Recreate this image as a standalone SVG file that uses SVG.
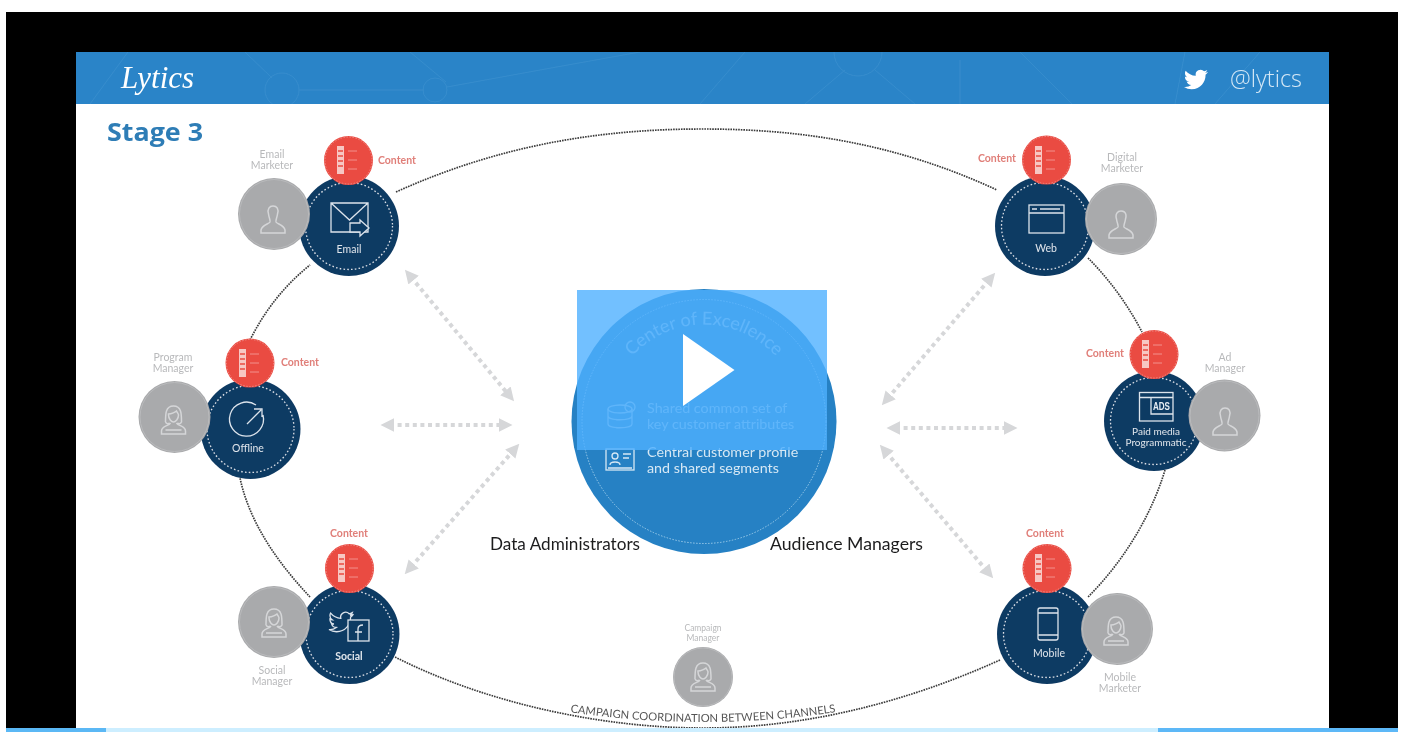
<svg xmlns="http://www.w3.org/2000/svg" width="1404" height="732" viewBox="0 0 1404 732">
<style>
text{font-family:"Lato","Liberation Sans",sans-serif}
.navy{fill:#113b63}
.red{fill:#ea4b42}
.grey{fill:#a9aaac}
.ring{fill:none;stroke:#fff;stroke-width:1.3;stroke-dasharray:1.6 2.2;opacity:.85}
.ringg{fill:none;stroke:#b9babc;stroke-width:1}
.ringr{fill:none;stroke:#f08a84;stroke-width:1;stroke-dasharray:1.5 1.5}
.role{font-size:10.5px;fill:#b8b9bb;text-anchor:middle}
.cont{font-size:10.5px;fill:#e07f79;font-weight:700}
.chan{font-size:10.5px;fill:#dfe6ec;text-anchor:middle}
.ico{fill:none;stroke:#dbe4ec;stroke-width:1.3}
.pic{fill:none;stroke:#d5d6d8;stroke-width:1.5}
.orbit{fill:none;stroke:#3a3a3a;stroke-width:1.7;stroke-dasharray:1.6 1}
.arr{fill:none;stroke:#d6d7d9;stroke-width:4;stroke-dasharray:4 3.6;marker-start:url(#head);marker-end:url(#head)}
.big{font-size:17px;fill:#1d1d1f}
.ctr{font-size:14.3px;fill:#d6e8f5}
.deco{fill:none;stroke:#4a9ad4;stroke-width:1;opacity:.4}
</style>
<defs>
<filter id="soft" filterUnits="userSpaceOnUse" x="0" y="0" width="1404" height="732"><feGaussianBlur stdDeviation="0.45"/></filter>
<clipPath id="hdr"><rect x="76" y="52" width="1253" height="52"/></clipPath>
<marker id="head" viewBox="0 0 10 10" refX="3" refY="5" markerWidth="3.4" markerHeight="3.8" orient="auto-start-reverse" markerUnits="strokeWidth"><path d="M0 0L10 5L0 10Z" fill="#d6d7d9"/></marker>
<g id="man"><path class="pic" d="M-4.500 -10C-6 -15 -3.500 -18 0 -18C4 -18 6 -15 4.500 -10C4 -6 2.500 -4 3 -2C4 0 11 1 12 6V9H-12V6C-11 1 -4 0 -3 -2C-2.500 -4 -4 -6 -4.500 -10Z"/></g>
<g id="woman"><path class="pic" d="M-8 -2C-8 -10 -8 -18 0 -18C8 -18 8 -10 8 -2C7 0 5 0 4 -1M-8 -2C-7 0 -5 0 -4 -1M-5 -10C-2 -10 2 -12 3 -13C4 -11 5 -10 5 -9C5 -5 2 -2 0 -2C-2 -2 -5 -5 -5 -9ZM-3 -1C-5 2 -12 2 -12 7V10H12V7C12 2 5 2 3 -1M-8 6H8"/></g>
<g id="list"><path d="M-8 -14H-1V14H-8Z" fill="#f7c7c3"/><path d="M-7 -9H-2M-7 -4H-2M-7 1H-2M-7 6H-2" stroke="#ea4b42" stroke-width="1.400"/><path d="M3 -9H12M3 0H12M3 9H12" stroke="#f2918b" stroke-width="1"/></g>
<path id="arcCoE" d="M607 421.500A97 97 0 0 1 801 421.500"/>
<path id="arcCamp" d="M550 709Q703 735 856 709"/>
</defs>
<rect width="1404" height="732" fill="#fff"/>
<rect x="6" y="12" width="1392" height="716" fill="#000"/>
<g id="slide" filter="url(#soft)">
<rect x="76" y="52" width="1253" height="676" fill="#fff"/>
<g id="header">
<rect x="76" y="52" width="1253" height="52" fill="#2a84c8"/>
<g class="deco" clip-path="url(#hdr)">
<circle cx="282" cy="90" r="17"/><circle cx="435" cy="90" r="12"/><circle cx="858" cy="52" r="24"/>
<path d="M90 104L128 52M245 52L272 78M299 90H424M447 87L540 70L640 52M446 82L410 52M700 104L745 52M805 104L845 70M875 70L915 104M1020 52L1072 104M1175 104L1185 52M1215 104L1260 52M960 60V104"/>
</g>
<text x="121" y="88" font-size="31" fill="#fff" font-style="italic" style="font-family:'Liberation Serif',serif">Lytics</text>
<path transform="translate(1184 67.500)" fill="#fff" d="M23.953 4.570a10 10 0 01-2.825.775 4.958 4.958 0 002.163-2.723c-.951.555-2.005.959-3.127 1.184a4.920 4.920 0 00-8.384 4.482C7.690 8.095 4.067 6.130 1.640 3.162a4.822 4.822 0 00-.666 2.475c0 1.710.870 3.213 2.188 4.096a4.904 4.904 0 01-2.228-.616v.060a4.923 4.923 0 003.946 4.827 4.996 4.996 0 01-2.212.085 4.936 4.936 0 004.604 3.417 9.867 9.867 0 01-6.102 2.105c-.390 0-.779-.023-1.170-.067a13.995 13.995 0 007.557 2.209c9.053 0 13.998-7.496 13.998-13.985 0-.210 0-.420-.015-.630A9.935 9.935 0 0024 4.590z"/>
<text x="1230" y="87" font-size="23" fill="#d5e8f6" textLength="72" lengthAdjust="spacingAndGlyphs" style="font-family:'Open Sans',sans-serif;font-weight:300">@lytics</text>
</g>
<text x="107" y="141" font-size="25" font-weight="700" fill="#2f7db6" textLength="96" lengthAdjust="spacingAndGlyphs" style="font-family:'Open Sans',sans-serif">Stage 3</text>

<g id="connectors">
<path class="orbit" d="M396 192C500 145 600 129 703 129S900 145 997 190"/>
<path class="orbit" d="M1088 258Q1120 290 1142 332"/>
<path class="orbit" d="M1165 470C1150 520 1120 565 1088 597"/>
<path class="orbit" d="M1000 660C900 705 800 728 703 728S490 705 395 657"/>
<path class="orbit" d="M310 597C280 565 250 525 240 478"/>
<path class="orbit" d="M250 340C265 310 285 285 310 265"/>
<path class="arr" d="M411 277L508 394"/>
<path class="arr" d="M390 425H503"/>
<path class="arr" d="M411 567L513 451"/>
<path class="arr" d="M989 280L888 398"/>
<path class="arr" d="M896 428H1008"/>
<path class="arr" d="M886 452L987 571"/>
</g>

<g id="center">
<circle cx="704" cy="421.500" r="132.500" fill="#2581c4"/>
<circle cx="704" cy="421.500" r="122" fill="none" stroke="#9ccbea" stroke-width="1" stroke-dasharray="1.500 1.500"/>
<g opacity=".7">
<text font-size="18" fill="#d6e8f5" text-anchor="middle"><textPath href="#arcCoE" startOffset="50%">Center of Excellence</textPath></text>
<g fill="none" stroke="#d6e8f5" stroke-width="1.300">
<ellipse cx="620" cy="409" rx="12" ry="4"/><path d="M608 409V424C608 429 632 429 632 424V409M608 416C608 421 632 421 632 416"/><circle cx="630" cy="407" r="5"/>
</g>
<text class="ctr" x="647" y="413">Shared common set of</text>
<text class="ctr" x="647" y="429">key customer attributes</text>
</g>
<g fill="none" stroke="#d6e8f5" stroke-width="1.300">
<rect x="606" y="449" width="28" height="21"/><circle cx="615" cy="456" r="3"/><path d="M610 465C610 461 620 461 620 465M623 454H631M623 458H629M608 468H632"/>
</g>
<text class="ctr" x="647" y="457">Central customer profile</text>
<text class="ctr" x="647" y="473">and shared segments</text>
</g>
<text class="big" x="490" y="550" id="label-data" textLength="150" lengthAdjust="spacingAndGlyphs">Data Administrators</text>
<text class="big" x="770" y="550" id="label-aud" textLength="153" lengthAdjust="spacingAndGlyphs">Audience Managers</text>

<g id="node-email">
<circle class="navy" cx="349" cy="226" r="50"/><circle class="ring" cx="349" cy="226" r="43.500"/>
<path class="ico" d="M331 203H368V232H331ZM331 203L349.500 220L368 203"/><path class="ico" style="fill:#113b63" d="M350 223H360V220L369 228L360 236V232H350Z"/>
<text class="chan" x="349" y="253">Email</text>
<circle class="grey" cx="274" cy="214" r="36"/><circle class="ringg" cx="274" cy="214" r="34.500"/><use href="#man" x="273" y="224"/>
<circle class="red" cx="348.500" cy="160.500" r="24.500"/><circle class="ringr" cx="348.500" cy="160.500" r="23.500"/><use href="#list" x="345" y="160"/>
<text class="role" x="272" y="158">Email</text><text class="role" x="272" y="169">Marketer</text>
<text class="cont" x="378" y="164">Content</text>
</g>

<g id="node-offline">
<circle class="navy" cx="250.500" cy="429" r="50"/><circle class="ring" cx="250.500" cy="429" r="43.500"/>
<path class="ico" d="M256 405A17 17 0 1 0 263 415M247 424L261 410M254 409H262V417"/>
<text class="chan" x="248" y="452">Offline</text>
<circle class="grey" cx="174.500" cy="417" r="36"/><circle class="ringg" cx="174.500" cy="417" r="34.500"/><use href="#woman" x="173.500" y="424"/>
<circle class="red" cx="250" cy="363" r="24.500"/><circle class="ringr" cx="250" cy="363" r="23.500"/><use href="#list" x="247" y="363"/>
<text class="role" x="173" y="361">Program</text><text class="role" x="173" y="372">Manager</text>
<text class="cont" x="281" y="366">Content</text>
</g>

<g id="node-social">
<circle class="navy" cx="349.500" cy="634" r="50"/><circle class="ring" cx="349.500" cy="634" r="43.500"/>
<path class="ico" transform="translate(329 610)" d="M23.953 4.570a10 10 0 01-2.825.775 4.958 4.958 0 002.163-2.723c-.951.555-2.005.959-3.127 1.184a4.920 4.920 0 00-8.384 4.482C7.690 8.095 4.067 6.130 1.640 3.162a4.822 4.822 0 00-.666 2.475c0 1.710.870 3.213 2.188 4.096a4.904 4.904 0 01-2.228-.616v.060a4.923 4.923 0 003.946 4.827 4.996 4.996 0 01-2.212.085 4.936 4.936 0 004.604 3.417 9.867 9.867 0 01-6.102 2.105c-.390 0-.779-.023-1.170-.067a13.995 13.995 0 007.557 2.209c9.053 0 13.998-7.496 13.998-13.985 0-.210 0-.420-.015-.630A9.935 9.935 0 0024 4.590z"/>
<rect class="ico" x="348" y="620" width="21" height="21" style="fill:#113b63"/><path class="ico" d="M358 641V629C358 626 360 625 363 625M355 632H362"/>
<text class="chan" x="349" y="660" style="font-weight:700">Social</text>
<circle class="grey" cx="274" cy="622" r="36"/><circle class="ringg" cx="274" cy="622" r="34.500"/><use href="#woman" x="274" y="627"/>
<circle class="red" cx="349.500" cy="568.500" r="24.500"/><circle class="ringr" cx="349.500" cy="568.500" r="23.500"/><use href="#list" x="346" y="568"/>
<text class="role" x="272" y="674">Social</text><text class="role" x="272" y="685">Manager</text>
<text class="cont" x="349" y="537" text-anchor="middle">Content</text>
</g>

<g id="node-web">
<circle class="navy" cx="1045" cy="226" r="50"/><circle class="ring" cx="1045" cy="226" r="43.500"/>
<rect class="ico" x="1029" y="205" width="35" height="28"/><path class="ico" d="M1029 213H1064M1032 209H1037M1040 209H1060"/>
<text class="chan" x="1046" y="252">Web</text>
<circle class="grey" cx="1121" cy="219" r="36"/><circle class="ringg" cx="1121" cy="219" r="34.500"/><use href="#man" x="1121" y="229"/>
<circle class="red" cx="1046.500" cy="160" r="24.500"/><circle class="ringr" cx="1046.500" cy="160" r="23.500"/><use href="#list" x="1043" y="160"/>
<text class="role" x="1122" y="161">Digital</text><text class="role" x="1122" y="172">Marketer</text>
<text class="cont" x="978" y="162">Content</text>
</g>

<g id="node-paid">
<circle class="navy" cx="1154" cy="421" r="50"/><circle class="ring" cx="1154" cy="421" r="43.500"/>
<rect class="ico" x="1139.500" y="392.500" width="33.500" height="28.500"/><path class="ico" d="M1139.500 397.500H1173M1151 397.500V414H1173"/>
<text x="1161.500" y="410" font-size="10" font-weight="700" fill="#e6edf3" text-anchor="middle" textLength="17" lengthAdjust="spacingAndGlyphs" style="font-family:'Liberation Sans',sans-serif">ADS</text>
<text class="chan" x="1156" y="435" style="font-size:10px">Paid media</text><text class="chan" x="1156" y="446" style="font-size:10px">Programmatic</text>
<circle class="grey" cx="1224.500" cy="415.500" r="36"/><circle class="ringg" cx="1224.500" cy="415.500" r="34.500"/><use href="#man" x="1225" y="426"/>
<circle class="red" cx="1154" cy="354.500" r="24.500"/><circle class="ringr" cx="1154" cy="354.500" r="23.500"/><use href="#list" x="1150" y="354"/>
<text class="role" x="1225" y="361">Ad</text><text class="role" x="1225" y="372">Manager</text>
<text class="cont" x="1086" y="357">Content</text>
</g>

<g id="node-mobile">
<circle class="navy" cx="1047" cy="634" r="50"/><circle class="ring" cx="1047" cy="634" r="43.500"/>
<rect class="ico" x="1038" y="608" width="20" height="32" rx="2"/><path class="ico" d="M1038 613H1058M1038 635H1058"/>
<text class="chan" x="1049" y="657">Mobile</text>
<circle class="grey" cx="1117" cy="629" r="36"/><circle class="ringg" cx="1117" cy="629" r="34.500"/><use href="#woman" x="1116" y="635"/>
<circle class="red" cx="1047" cy="568.500" r="24.500"/><circle class="ringr" cx="1047" cy="568.500" r="23.500"/><use href="#list" x="1043" y="568"/>
<text class="role" x="1120" y="681">Mobile</text><text class="role" x="1120" y="692">Marketer</text>
<text class="cont" x="1045" y="537" text-anchor="middle">Content</text>
</g>

<g id="node-campaign">
<circle class="grey" cx="703" cy="677" r="30"/><circle class="ringg" cx="703" cy="677" r="29"/><use href="#woman" x="703" y="681"/>
<text class="role" x="703" y="631" style="font-size:8.500px">Campaign</text><text class="role" x="703" y="641" style="font-size:8.500px">Manager</text>
</g>
<text id="label-campaign" font-size="11.200" fill="#555" text-anchor="middle"><textPath href="#arcCamp" startOffset="50%">CAMPAIGN COORDINATION BETWEEN CHANNELS</textPath></text>
</g>

<g id="player">
<rect x="577" y="290" width="250" height="160" fill="#4fb0ff" fill-opacity=".8"/>
<path d="M683 334L734.500 370L683 406Z" fill="#fff"/>
<rect x="6" y="728" width="100" height="4" fill="#5bb8f5"/>
<rect x="106" y="728" width="1052" height="4" fill="#cdeeff"/>
<rect x="1158" y="728" width="240" height="4" fill="#5db8f7"/>
</g>
</svg>
